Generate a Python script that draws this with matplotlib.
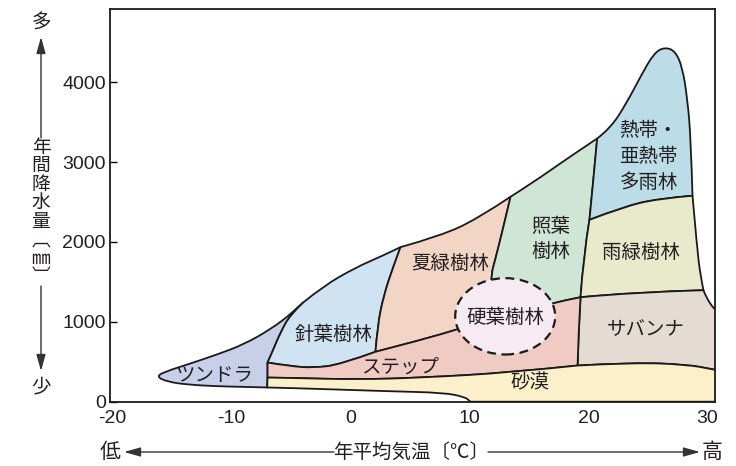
import matplotlib
matplotlib.use("Agg")
import matplotlib.pyplot as plt
from matplotlib.path import Path
from matplotlib.patches import PathPatch, Ellipse, FancyArrowPatch
from matplotlib import font_manager as fm
import numpy as np

# ---------------- data: biome boundaries (temperature degC, precipitation mm) -------------
N_B = (-7.0, 178)
N_D = (-6.97, 302)
N_C = (-6.97, 490)
N_A = (-3.95, 1245)
N_E = (4.2, 1935)
N_L = (2.1, 625)
N_M = (11.76, 1032)
N_F = (13.45, 2566)
N_G = (20.73, 3296)
N_J = (19.33, 1308)
N_P = (20.08, 2277)
N_H = (28.74, 2579)
N_I = (29.66, 1396)
N_K = (19.08, 453)
N_Q = (32.0, 360)
N_R = (32.0, 0)
N_S = (10.08, 0)

tundra_outer = [N_B, (-9.0, 186), (-11.2, 193), (-13.72, 214), (-15.4, 250), (-16.35, 318),
                (-15.4, 385), (-13.72, 465), (-11.2, 591), (-8.97, 717), (-6.72, 906),
                (-4.9, 1110), N_A]
tundra_east = [N_A, (-5.04, 1094), (-5.88, 868), (-6.55, 629), N_C]
strip_cd = [N_C, N_D]
strip_db = [N_D, N_B]
conifer_top = [N_A, (-2.27, 1450), (0.5, 1685), (2.52, 1815), N_E]
conifer_east = [N_L, (2.27, 944), (2.77, 1321), (3.61, 1698), N_E]
steppe_top_w = [N_C, (-5.04, 444), (-3.11, 424), (-0.84, 465), N_L]
steppe_top_m = [N_L, (6.13, 780), (8.99, 906), N_M]
steppe_top_e = [N_M, (17.06, 1245), N_J]
sg_top = [N_E, (7.56, 2076), (10.67, 2290), N_F]
sg_east = [N_M, (11.76, 1560), (12.18, 1786), (12.88, 2205), N_F]
ev_top = [N_F, (15.4, 2751), (18.2, 3044), N_G]
ev_east_lo = [N_J, (19.58, 1824), N_P]
ev_east_hi = [N_P, (20.34, 2667), N_G]
rf_top = [N_G, (21.85, 3422), (23.28, 3761), (24.4, 4080), (25.5, 4365), (26.4, 4440),
          (27.3, 4390), (27.9, 4180), (28.3, 3800), (28.6, 3300), N_H]
rf_bottom = [N_P, (22.94, 2440), (25.8, 2541), N_H]
rg_east = [N_H, (29.13, 1912), (29.41, 1577), N_I]
savanna_top = [N_J, (23.78, 1371), N_I]
savanna_east = [N_I, (29.83, 1325), (30.53, 1157), (31.3, 1080), (32.0, 1050), N_Q]
savanna_west = [N_K, (19.16, 868), N_J]
desert_top_w = [N_D, (-5.04, 298), (0.56, 277), (6.13, 302), (13.45, 365), N_K]
desert_top_e = [N_K, (23.78, 491), (28.3, 465), (30.53, 403), N_Q]
desert_edge = [N_Q, N_R]
bottom_edge = [N_R, N_S]
desert_bottom = [N_B, (-5.04, 172), (3.36, 130), (7.82, 113), (9.6, 60), (10.0, 10), N_S]

sclerophyll_center = (13.0, 1069)
sclerophyll_span = (8.4, 956)

labels = [
    ("ツンドラ", -11.5, 327),
    ("針葉樹林", -1.4, 843),
    ("夏緑樹林", 8.4, 1736),
    ("照葉\n樹林", 16.8, 2038),
    ("熱帯・\n亜熱帯\n多雨林", 22.6, 3070),
    ("雨緑樹林", 24.4, 1862),
    ("硬葉樹林", 13.0, 1057),
    ("ステップ", 4.2, 440),
    ("サバンナ", 24.8, 906),
    ("砂漠", 15.1, 239),
]
xticks = [-20, -10, 0, 10, 20, 30]
yticks = [0, 1000, 2000, 3000, 4000]
ylabel_chars = ["年", "間", "降", "水", "量", "︹", "㎜", "︺"]
xlabel_text = "年平均気温〔℃〕"

colors = {
    "tundra": "#c8cfe9", "conifer": "#cfe3f3", "summer": "#f2d5c5", "evergreen": "#cfe6d6",
    "rainforest": "#bcdce8", "raingreen": "#e9eacb", "savanna": "#e4dbd2",
    "steppe": "#f0cbc3", "desert": "#fbf0c9", "sclerophyll": "#f7ebf3",
}

# ---------------- helpers -------------
def rev(s):
    return s[::-1]

def seg_verts(pts):
    pts = np.asarray(pts, float)
    n = len(pts)
    if n == 2:
        return [pts[1]], [Path.LINETO]
    verts, codes = [], []
    for i in range(1, n - 1):
        end = pts[n - 1] if i == n - 2 else (pts[i] + pts[i + 1]) / 2
        verts += [pts[i], end]
        codes += [Path.CURVE3, Path.CURVE3]
    return verts, codes

def region(*segs):
    verts = [np.asarray(segs[0][0], float)]
    codes = [Path.MOVETO]
    for s in segs:
        v, c = seg_verts(s)
        verts += v
        codes += c
    verts.append(verts[0])
    codes.append(Path.CLOSEPOLY)
    return Path(verts, codes)

regions = {
    "tundra": region(tundra_outer, tundra_east, strip_cd, strip_db),
    "conifer": region(conifer_top, rev(conifer_east), rev(steppe_top_w), rev(tundra_east)),
    "summer": region(sg_top, rev(sg_east), rev(steppe_top_m), conifer_east),
    "evergreen": region(ev_top, rev(ev_east_hi), rev(ev_east_lo), rev(steppe_top_e), sg_east),
    "rainforest": region(rf_top, rev(rf_bottom), ev_east_hi),
    "raingreen": region(rf_bottom, rg_east, rev(savanna_top), ev_east_lo),
    "savanna": region(savanna_top, savanna_east, rev(desert_top_e), savanna_west),
    "steppe": region(steppe_top_w, steppe_top_m, steppe_top_e, rev(savanna_west),
                     rev(desert_top_w), rev(strip_cd)),
    "desert": region(desert_top_w, desert_top_e, desert_edge, bottom_edge,
                     rev(desert_bottom), strip_db),
}

# ---------------- fonts -------------
names = {f.name for f in fm.fontManager.ttflist}
narrow = "Liberation Sans Narrow" in names
num_font = "Liberation Sans Narrow" if narrow else "Liberation Sans"
num_size = 16 if narrow else 14
JP = ["Noto Sans CJK JP", "DejaVu Sans"]
TXT = "#231f20"

W, H = 736, 466
fig = plt.figure(figsize=(W / 100, H / 100), dpi=100)
fig.patch.set_facecolor("white")
ax = fig.add_axes([110 / W, 1 - 401.7 / H, (715 - 110) / W, (401.7 - 9) / H])
ax.set_xlim(-20.21, 30.63)
ax.set_ylim(0, 4917)

for key, p in regions.items():
    ax.add_patch(PathPatch(p, facecolor=colors[key], edgecolor="#1a1a1a", lw=1.3,
                           joinstyle="round", zorder=2))

ax.add_patch(Ellipse(sclerophyll_center, sclerophyll_span[0], sclerophyll_span[1],
                     facecolor=colors["sclerophyll"], edgecolor="#1a1a1a", lw=1.6,
                     linestyle=(0, (4, 2.5)), zorder=3))

for txt, t, p in labels:
    ha = "left" if txt.startswith("熱帯") else "center"
    ax.text(t, p, txt, family=JP, fontsize=14, color=TXT, ha=ha, va="center",
            linespacing=1.3, zorder=4)

ax.set_xticks(xticks)
ax.set_yticks(yticks)
ax.set_xticklabels([str(v) for v in xticks], family=num_font, fontsize=num_size, color=TXT)
ax.set_yticklabels([str(v) for v in yticks], family=num_font, fontsize=num_size, color=TXT)
ax.tick_params(axis="x", direction="in", length=0, pad=6)
ax.tick_params(axis="y", direction="in", length=5, width=1, pad=3)
ax.set_xticks([-10, 10, 20], minor=True)
ax.tick_params(axis="x", which="minor", direction="in", length=8, width=1)
for s in ax.spines.values():
    s.set_linewidth(1.3)
    s.set_color("#1a1a1a")
    s.set_zorder(5)

# ---------------- outer axis captions with arrows -------------
def fx(x):
    return x / W

def fy(y):
    return 1 - y / H

def arrow(x0, y0, x1, y1):
    fig.add_artist(FancyArrowPatch((fx(x0), fy(y0)), (fx(x1), fy(y1)),
                                   transform=fig.transFigure,
                                   arrowstyle="-|>,head_length=1.0,head_width=0.28",
                                   mutation_scale=10, lw=1.0, color="#333333",
                                   shrinkA=0, shrinkB=0))

fig.text(fx(41), fy(23), "多", family=JP, fontsize=14, color=TXT, ha="center", va="center")
fig.text(fx(41), fy(387), "少", family=JP, fontsize=14, color=TXT, ha="center", va="center")
arrow(41, 138, 41, 37)
arrow(41, 286, 41, 371)
fig.text(fx(41), fy(212), "\n".join(ylabel_chars), family=JP, fontsize=13.5, color=TXT,
         ha="center", va="center", multialignment="center", linespacing=0.84)

fig.text(fx(110), fy(452), "低", family=JP, fontsize=15, color=TXT, ha="center", va="center")
fig.text(fx(712), fy(452), "高", family=JP, fontsize=15, color=TXT, ha="center", va="center")
fig.text(fx(411), fy(452), xlabel_text, family=JP, fontsize=14, color=TXT,
         ha="center", va="center")
arrow(334, 452, 124, 452)
arrow(488, 452, 700, 452)

fig.savefig("out.png", dpi=100)
